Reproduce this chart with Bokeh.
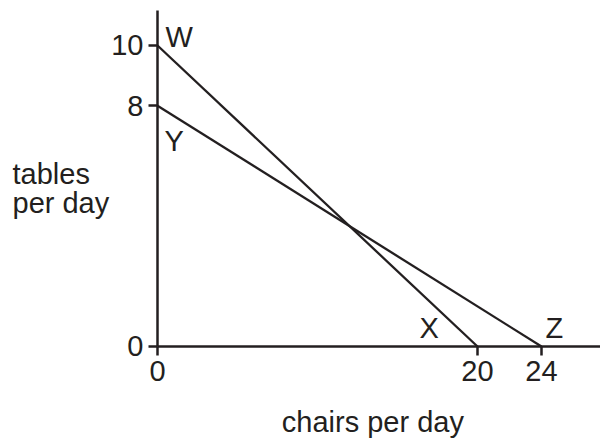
from bokeh.plotting import figure
from bokeh.models import Range1d, FixedTicker, Label, ColumnDataSource
from bokeh.core.properties import value
from bokeh.embed import file_html
from bokeh.resources import INLINE

# ---- data ----
line_wx_chairs = [0, 20]
line_wx_tables = [10, 0]
line_yz_chairs = [0, 24]
line_yz_tables = [8, 0]
x_ticks = [0, 20, 24]
y_ticks = [0, 8, 10]
point_names = ["W", "Y", "X", "Z"]
point_chairs = [0, 0, 20, 24]
point_tables = [10, 8, 0, 0]
x_title = "chairs per day"
y_title_lines = ["tables", "per day"]

FONT = "Liberation Sans"
INK = "#231f20"
FS = "29px"

p = figure(width=600, height=438, output_backend="svg", toolbar_location=None,
           x_range=Range1d(-9.8125, 27.6875), y_range=Range1d(-3.0565, 11.495),
           min_border_left=0, min_border_right=0, min_border_top=0,
           min_border_bottom=0)
p.outline_line_color = None
p.grid.visible = False
p.background_fill_color = "white"
p.border_fill_color = "white"

p.xaxis.ticker = FixedTicker(ticks=x_ticks)
p.yaxis.ticker = FixedTicker(ticks=y_ticks)
p.xaxis.fixed_location = 0
p.yaxis.fixed_location = 0
p.xaxis.bounds = (0, 30)
p.yaxis.bounds = (0, 11.163)
for ax in (p.xaxis, p.yaxis):
    ax.axis_line_width = 2.5
    ax.axis_line_color = INK
    ax.major_tick_line_width = 2.5
    ax.major_tick_line_color = INK
    ax.major_tick_out = 9
    ax.major_tick_in = 0
    ax.minor_tick_line_color = None
    ax.major_label_text_font = FONT
    ax.major_label_text_font_size = FS
    ax.major_label_text_color = INK
p.xaxis.major_label_standoff = 6
p.yaxis.major_label_standoff = 5

p.line(line_wx_chairs, line_wx_tables, line_width=2.3, line_color=INK)
p.line(line_yz_chairs, line_yz_tables, line_width=2.3, line_color=INK)

src = ColumnDataSource(dict(x=point_chairs, y=point_tables, t=point_names,
                            xo=[8, 7, -58, 4], yo=[-8, 35, -18, -18]))
p.text(x="x", y="y", text="t", x_offset="xo", y_offset="yo", source=src,
       text_font=value(FONT), text_font_size=FS, text_color=INK,
       text_align="left", text_baseline="alphabetic")

for txt, yy in zip(y_title_lines, [5.747, 4.751]):
    p.add_layout(Label(x=-9.0625, y=yy, text=txt, text_font=FONT,
                       text_font_size=FS, text_color=INK,
                       text_align="left", text_baseline="alphabetic"))
p.add_layout(Label(x=13.46, y=-2.492, text=x_title, text_font=FONT,
                   text_font_size=FS, text_color=INK,
                   text_align="center", text_baseline="alphabetic"))

open("out.html", "w").write(file_html(p, INLINE))
